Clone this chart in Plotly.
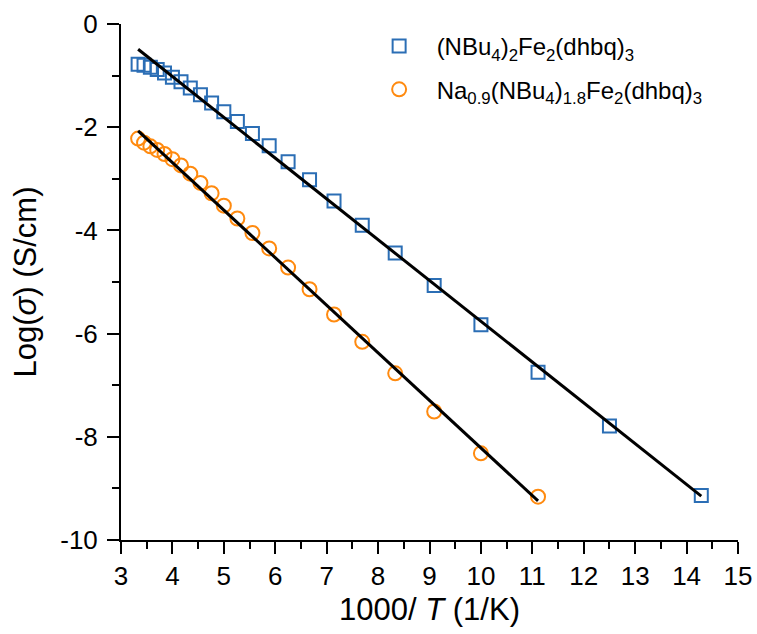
import plotly.graph_objects as go

# 1000/T values (1/K)
x_blue = [3.333, 3.448, 3.571, 3.704, 3.846, 4.0, 4.167, 4.348, 4.545, 4.762, 5.0, 5.263,
          5.556, 5.882, 6.25, 6.667, 7.143, 7.692, 8.333, 9.091, 10.0, 11.111, 12.5, 14.286]
y_blue = [-0.78, -0.80, -0.84, -0.88, -0.95, -1.03, -1.12, -1.24, -1.37, -1.53, -1.70, -1.89,
          -2.12, -2.36, -2.67, -3.02, -3.43, -3.90, -4.44, -5.07, -5.83, -6.75, -7.79, -9.14]

x_orange = [3.333, 3.448, 3.571, 3.704, 3.846, 4.0, 4.167, 4.348, 4.545, 4.762, 5.0, 5.263,
            5.556, 5.882, 6.25, 6.667, 7.143, 7.692, 8.333, 9.091, 10.0, 11.111]
y_orange = [-2.22, -2.30, -2.37, -2.44, -2.52, -2.62, -2.74, -2.90, -3.08, -3.28, -3.52, -3.77,
            -4.05, -4.35, -4.72, -5.14, -5.63, -6.16, -6.77, -7.51, -8.32, -9.16]

fit_blue_x = [3.333, 14.286]
fit_blue_y = [-0.49, -9.15]
fit_orange_x = [3.333, 11.111]
fit_orange_y = [-2.07, -9.24]

x_ticks = [3, 4, 5, 6, 7, 8, 9, 10, 11, 12, 13, 14, 15]
x_ticklabels = ["3", "4", "5", "6", "7", "8", "9", "10", "11", "12", "13", "14", "15"]
y_ticks = [0, -2, -4, -6, -8, -10]
y_ticklabels = ["0", "-2", "-4", "-6", "-8", "-10"]

name_blue = "(NBu<sub>4</sub>)<sub>2</sub>Fe<sub>2</sub>(dhbq)<sub>3</sub>"
name_orange = "Na<sub>0.9</sub>(NBu<sub>4</sub>)<sub>1.8</sub>Fe<sub>2</sub>(dhbq)<sub>3</sub>"

BLUE = "#2b6eb5"
ORANGE = "#ff8a0f"
FONT = "Liberation Sans, Arial, sans-serif"

fig = go.Figure()
fig.add_trace(go.Scatter(x=x_blue, y=y_blue, mode="markers", name=name_blue, legendgroup="a",
                         marker=dict(symbol="square-open", size=13, color=BLUE,
                                     line=dict(width=2, color=BLUE))))
fig.add_trace(go.Scatter(x=x_orange, y=y_orange, mode="markers", name=name_orange, legendgroup="b",
                         marker=dict(symbol="circle-open", size=14, color=ORANGE,
                                     line=dict(width=2, color=ORANGE))))
fig.add_trace(go.Scatter(x=fit_blue_x, y=fit_blue_y, mode="lines", showlegend=False,
                         line=dict(color="black", width=3)))
fig.add_trace(go.Scatter(x=fit_orange_x, y=fit_orange_y, mode="lines", showlegend=False,
                         line=dict(color="black", width=3)))

axis_common = dict(showline=True, linecolor="black", linewidth=2, ticks="outside",
                   ticklen=12, tickwidth=2, tickcolor="black", showgrid=False, zeroline=False,
                   mirror=False, automargin=False,
                   tickfont=dict(size=26, color="black", family=FONT),
                   minor=dict(ticks="outside", ticklen=7, tickwidth=2, tickcolor="black",
                              showgrid=False))

fig.update_xaxes(range=[3, 15], tickvals=x_ticks, ticktext=x_ticklabels, minor_dtick=0.5,
                 minor_tick0=3,
                 title=dict(text="1000/ <i>T</i> (1/K)", font=dict(size=31, color="black", family=FONT),
                            standoff=8), **axis_common)
fig.update_yaxes(range=[-10, 0], tickvals=y_ticks, ticktext=y_ticklabels, minor_dtick=1,
                 minor_tick0=0, ticklabelstandoff=4,
                 title=dict(text="Log(<i>σ</i>) (S/cm)", font=dict(size=31, color="black", family=FONT),
                            standoff=14), **axis_common)

fig.update_layout(
    width=757, height=634,
    margin=dict(l=121, r=19, t=24, b=94),
    plot_bgcolor="white", paper_bgcolor="white",
    font=dict(family=FONT, color="black"),
    showlegend=True,
    legend=dict(x=0.39, y=1.0, xanchor="left", yanchor="top",
                font=dict(size=24, color="black", family=FONT), itemwidth=65,
                bgcolor="rgba(0,0,0,0)", tracegroupgap=9),
)

fig.write_html("out.html", config={"displayModeBar": False},
               post_script="document.body.style.margin='0px';document.body.style.overflow='hidden';")
